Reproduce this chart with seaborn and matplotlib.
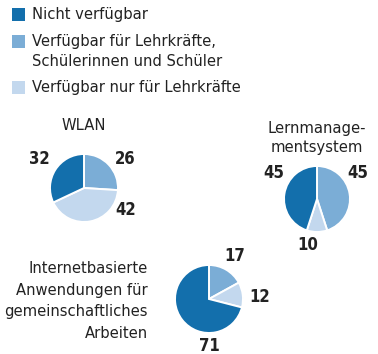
import matplotlib
matplotlib.use("Agg")
import matplotlib.pyplot as plt
import seaborn as sns
from matplotlib import font_manager
from matplotlib.patches import Rectangle

sns.set_theme(style="white")

# prefer a narrow sans face if one is installed
names = {f.name for f in font_manager.fontManager.ttflist}
condensed = [f for f in font_manager.fontManager.ttflist
             if f.name == "DejaVu Sans" and f.stretch in ("condensed", "semi-condensed", 87, 75)]
if "Liberation Sans Narrow" in names:
    FAMILY, STRETCH = ["Liberation Sans Narrow", "DejaVu Sans"], "normal"
elif condensed:
    FAMILY, STRETCH = ["DejaVu Sans"], "condensed"
else:
    FAMILY, STRETCH = ["DejaVu Sans"], "normal"
plt.rcParams["font.family"] = FAMILY
plt.rcParams["font.stretch"] = STRETCH

# Data (percent), wedge order clockwise from 12 o'clock
categories = ["Verfügbar für Lehrkräfte,\nSchülerinnen und Schüler",
              "Verfügbar nur für Lehrkräfte",
              "Nicht verfügbar"]
wlan = [26, 42, 32]
lms = [45, 10, 45]
internet = [17, 12, 71]
titles = ["WLAN", "Lernmanage-\nmentsystem",
          "Internetbasierte\nAnwendungen für\ngemeinschaftliches\nArbeiten"]
legend_labels = ["Nicht verfügbar",
                 "Verfügbar für Lehrkräfte,\nSchülerinnen und Schüler",
                 "Verfügbar nur für Lehrkräfte"]

dark, medium, light = "#136fac", "#7badd6", "#c3d8ee"
palette = [medium, light, dark]
legend_colors = [dark, medium, light]

TXT = "#222222"
FS = 11.8 if STRETCH == "condensed" or "Narrow" in FAMILY[0] else 10.5

W, H = 378, 354
fig = plt.figure(figsize=(W / 100, H / 100), dpi=100)
fig.patch.set_facecolor("white")

def px_axes(cx, cy, r):
    # axes square centred on (cx, cy) in pixel coordinates from top-left
    return fig.add_axes([(cx - r) / W, 1 - (cy + r) / H, 2 * r / W, 2 * r / H])

def draw_pie(cx, cy, r, values, label_pos):
    ax = px_axes(cx, cy, r)
    ax.pie(values, colors=palette, startangle=90, counterclock=False,
           radius=1.0, wedgeprops=dict(edgecolor="white", linewidth=1.4))
    ax.set_xlim(-1, 1)
    ax.set_ylim(-1, 1)
    ax.set_aspect("equal")
    ax.axis("off")
    for v, (x, y) in zip(values, label_pos):
        ax.text(x, y, f"{v}", ha="center", va="center", fontsize=12,
                fontweight="bold", color=TXT, clip_on=False)
    return ax

# Legend
rows_y = [15, 42, 88]
for color, label, y in zip(legend_colors, legend_labels, rows_y):
    fig.patches.append(Rectangle((12 / W, 1 - (y + 6) / H), 13 / W, 13 / H,
                                 transform=fig.transFigure, facecolor=color,
                                 edgecolor="none"))
    fig.text(32 / W, 1 - (y - 8) / H, label, ha="left", va="top",
             fontsize=FS, color=TXT, linespacing=1.4)

# WLAN
draw_pie(84, 188, 34, wlan, [(1.2, 0.85), (1.22, -0.65), (-1.3, 0.85)])
fig.text(84 / W, 1 - 126 / H, titles[0], ha="center", va="center",
         fontsize=FS, color=TXT)

# Lernmanagementsystem
draw_pie(317, 199, 33, lms, [(1.25, 0.78), (-0.27, -1.4), (-1.3, 0.78)])
fig.text(317 / W, 1 - 138 / H, titles[1], ha="center", va="center",
         fontsize=FS, color=TXT, linespacing=1.4)

# Internetbasierte Anwendungen
draw_pie(209, 299, 34, internet, [(0.76, 1.27), (1.5, 0.06), (0.0, -1.38)])
fig.text(148 / W, 1 - 301 / H, titles[2], ha="right", va="center",
         fontsize=FS, color=TXT, linespacing=1.55)

fig.savefig("out.png", dpi=100, facecolor="white")
